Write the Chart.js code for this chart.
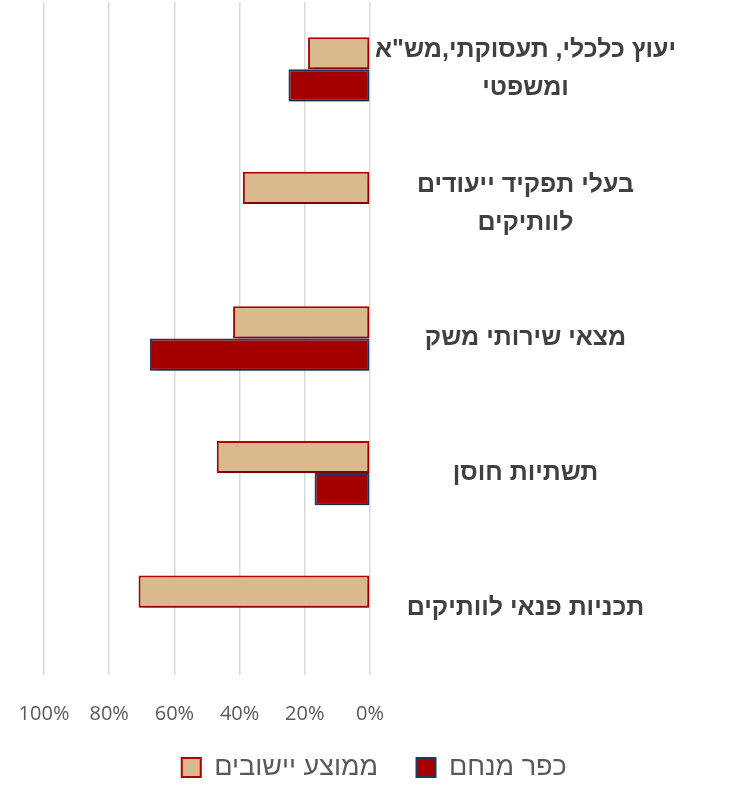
<!DOCTYPE html>
<html lang="he">
<head>
<meta charset="utf-8">
<script src="https://cdn.jsdelivr.net/npm/chart.js@4/dist/chart.umd.min.js"></script>
<style>
  html, body { margin: 0; padding: 0; background: #ffffff; }
  #wrap { width: 756px; height: 785px; position: relative; }
</style>
</head>
<body>
<div id="wrap"><canvas id="chart"></canvas></div>
<script>
// --- datos del gráfico ---
const categories = [
  ['יעוץ כלכלי, תעסוקתי,מש"א', 'ומשפטי'],
  ['בעלי תפקיד ייעודים', 'לוותיקים'],
  'מצאי שירותי משק',
  'תשתיות חוסן',
  'תכניות פנאי לוותיקים'
]
const avgLabel = 'ממוצע יישובים'
const kfarLabel = 'כפר מנחם'
const avgValues = [19, 39, 42, 47, 71]
const kfarValues = [25, null, 67.5, 17, null]
const xTicks = [0, 20, 40, 60, 80, 100]

const hebFont = "'Liberation Sans', Arial, sans-serif"

// sombra debajo de las barras
const shadowPlugin = {
  id: 'barShadow',
  beforeDatasetsDraw(chart) {
    const ctx = chart.ctx
    ctx.save()
    ctx.shadowColor = 'rgba(0,0,0,0.35)'
    ctx.shadowBlur = 5
    ctx.shadowOffsetX = 2
    ctx.shadowOffsetY = 4
  },
  afterDatasetsDraw(chart) {
    chart.ctx.restore()
  }
}

const ctx = document.getElementById('chart').getContext('2d')

new Chart(ctx, {
  type: 'bar',
  data: {
    labels: categories,
    datasets: [
      {
        label: avgLabel,
        data: avgValues,
        backgroundColor: '#dbb98f',
        borderColor: '#b00000',
        borderWidth: 2,
        borderSkipped: false
      },
      {
        label: kfarLabel,
        data: kfarValues,
        backgroundColor: '#a50000',
        borderColor: '#1f3a5f',
        borderWidth: 2,
        borderSkipped: false
      }
    ]
  },
  options: {
    indexAxis: 'y',
    responsive: true,
    maintainAspectRatio: false,
    animation: false,
    categoryPercentage: 0.478,
    barPercentage: 1.0,
    layout: { padding: { left: 0, top: 2, right: 0, bottom: -6 } },
    plugins: {
      legend: {
        position: 'bottom',
        labels: {
          color: '#595959',
          font: { family: hebFont, size: 27 },
          boxWidth: 19,
          boxHeight: 19,
          padding: 1,
          // espacio extra entre los dos elementos
          generateLabels: chart => {
            const items = Chart.defaults.plugins.legend.labels.generateLabels(chart)
            items[0].text = items[0].text + '     '
            items[1].text = items[1].text + ' '
            return items
          }
        }
      },
      tooltip: { enabled: false }
    },
    scales: {
      x: {
        reverse: true,
        min: 0,
        max: 100,
        afterBuildTicks: scale => { scale.ticks = xTicks.map(v => ({ value: v })) },
        afterFit: scale => { scale.paddingLeft = 44 },
        grid: { color: '#d9d9d9', lineWidth: 1.5, drawTicks: false },
        border: { display: false },
        ticks: {
          color: '#595959',
          padding: 27,
          font: { family: "'Open Sans', 'Liberation Sans', sans-serif", size: 20 },
          callback: v => v + '%'
        }
      },
      y: {
        position: 'right',
        grid: { display: false, drawTicks: false },
        border: { display: false },
        afterFit: scale => {
          scale.width = 386
          // sin márgenes extra por las etiquetas de dos líneas
          scale.paddingTop = 0
          scale.paddingBottom = 0
        },
        ticks: {
          crossAlign: 'center',
          padding: 5,
          color: '#404040',
          font: { family: hebFont, size: 25, weight: 'bold', lineHeight: 1.52 }
        }
      }
    }
  },
  plugins: [shadowPlugin]
})
</script>
</body>
</html>
